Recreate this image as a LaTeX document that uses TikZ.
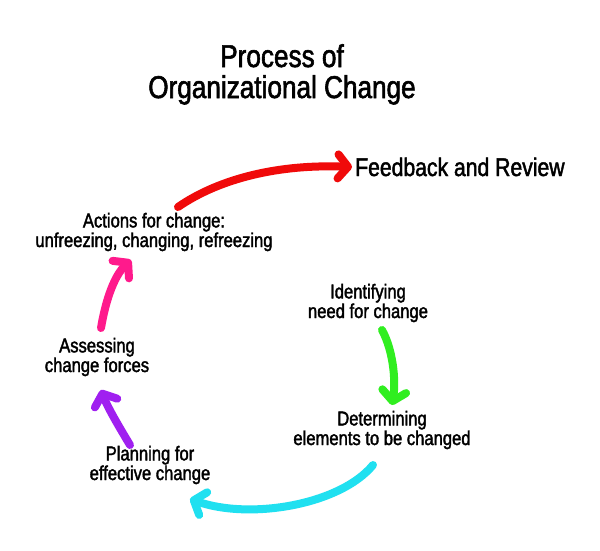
\documentclass[tikz,border=0pt]{standalone}
\usepackage{fontspec}
\setmainfont{Liberation Sans}[FakeStretch=0.83,FakeBold=1.8]
\usetikzlibrary{arrows.meta}
\definecolor{cred}{HTML}{F00A0A}
\definecolor{cpink}{HTML}{FF1A8C}
\definecolor{cpurple}{HTML}{A020F0}
\definecolor{cgreen}{HTML}{30EE20}
\definecolor{ccyan}{HTML}{20E0F0}
\tikzset{
  brush/.style={line width=8pt, line cap=round, line join=round,
    -{Straight Barb[length=10pt,width=24pt,round]}},
  title/.style={align=center, font=\fontsize{31.5}{31}\selectfont, inner sep=0pt},
  lbl/.style={align=center, font=\fontsize{20}{15.5}\selectfont, inner sep=0pt},
  fb/.style={font=\fontsize{25.5}{26}\selectfont, inner sep=0pt}
}
\begin{document}
\begin{tikzpicture}[x=1pt,y=-1pt]
\useasboundingbox[fill=white] (0,0) rectangle (600,550);
% texts (anchored at the baseline of their last line)
\node[title, anchor=base] (title) at (282,98) {Process of\\Organizational Change};
\node[fb, anchor=base west] (fr) at (355,176) {Feedback and Review};
\node[lbl, anchor=base] (act) at (154,247) {Actions for change:\\unfreezing, changing, refreezing};
\node[lbl, anchor=base] (idf) at (368,318) {Identifying\\need for change};
\node[lbl, anchor=base] (det) at (382,445) {Determining\\elements to be changed};
\node[lbl, anchor=base] (pln) at (150,480) {Planning for\\effective change};
\node[lbl, anchor=base] (ass) at (97,372) {Assessing\\change forces};
% arrow end points
\coordinate (rA) at (178,207); \coordinate (rB) at (352,167);
\coordinate (kA) at (101,328); \coordinate (kB) at (131,260);
\coordinate (uA) at (130,445); \coordinate (uB) at (101,390);
\coordinate (gA) at (382,330); \coordinate (gB) at (392,405);
\coordinate (cA) at (373,465); \coordinate (cB) at (190,499);
\draw[brush, cred] (rA) .. controls (220,178) and (280,164) .. (rB);
\draw[brush, cpink] (kA) .. controls (106,298) and (115,275) .. (kB);
\draw[brush, cpurple] (uA) .. controls (118,425) and (108,408) .. (uB);
\draw[brush, cgreen] (gA) .. controls (393,350) and (396,380) .. (gB);
\draw[brush, ccyan] (cA) .. controls (340,505) and (250,520) .. (cB);
\end{tikzpicture}
\end{document}
